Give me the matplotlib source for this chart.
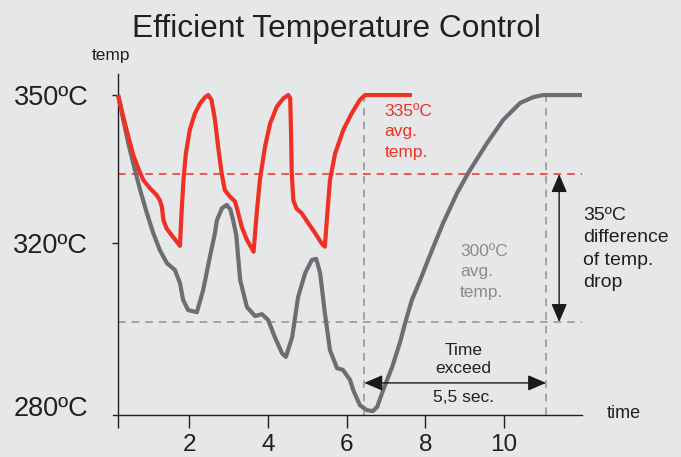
import numpy as np
import matplotlib
matplotlib.use("Agg")
import matplotlib.pyplot as plt

plt.rcParams['font.family'] = ['Liberation Sans', 'DejaVu Sans']
plt.rcParams['lines.scale_dashes'] = False

# temperature curves (time in sec, temp in ºC)
red_t = [0.20, 0.33, 0.46, 0.585, 0.71, 0.84, 1.01, 1.18, 1.26, 1.31, 1.35, 1.43, 1.56, 1.77,
         1.81, 1.86, 1.92, 2.02, 2.15, 2.28, 2.41, 2.49,
         2.57, 2.66, 2.74, 2.83, 2.91, 3.04, 3.17, 3.25, 3.34, 3.47, 3.64,
         3.72, 3.80, 3.93, 4.06, 4.23, 4.40, 4.52,
         4.57, 4.59, 4.61, 4.65, 4.73, 4.86, 5.03, 5.20, 5.37, 5.45,
         5.50, 5.58, 5.71, 5.92, 6.13, 6.34, 6.47, 7.66]
red_temp = [350, 345.9, 342.1, 338.6, 336.1, 333.7, 331.9, 330.4, 329.3, 327.9, 325.0, 323.2, 321.7, 319.3,
            326.5, 333.7, 338.9, 343.4, 346.5, 348.4, 349.6, 350,
            349.1, 345.3, 340.2, 335.1, 331.5, 330.1, 329.0, 326.5, 323.5, 320.7, 317.8,
            326.5, 333.7, 340.2, 344.6, 347.8, 349.4, 350,
            349.4, 343.4, 335.1, 329.3, 327.5, 326.5, 324.3, 322.2, 319.9, 319.1,
            325.0, 333.7, 338.9, 343.4, 346.5, 349.1, 350, 350]

gray_t = [0.20, 0.33, 0.46, 0.585, 0.76, 0.93, 1.09, 1.26, 1.44, 1.64, 1.77, 1.85, 1.98, 2.20,
          2.36, 2.53, 2.66, 2.71, 2.84, 2.96, 3.05, 3.12, 3.20, 3.30, 3.47, 3.68, 3.85, 4.01,
          4.18, 4.36, 4.46, 4.62, 4.77, 4.95, 5.12, 5.23, 5.33, 5.45, 5.58, 5.76, 5.91, 6.09,
          6.17, 6.34, 6.52, 6.67, 6.78, 6.93, 7.16, 7.36, 7.49, 7.66, 7.87, 8.07,
          8.45, 8.81, 9.09, 9.57, 9.98, 10.41, 10.74, 10.99, 11.98]
gray_temp = [350, 345.3, 340.8, 337.0, 331.5, 326.5, 322.2, 318.2, 314.9, 313.2, 309.9, 305.6, 303.0, 302.5,
             308.1, 316.5, 322.2, 325.0, 327.6, 328.3, 327.3, 325.0, 321.7, 310.6, 303.8, 301.5, 302.0, 300.5,
             296.4, 292.6, 291.7, 296.4, 306.3, 312.4, 315.7, 316.0, 312.4, 302.3, 293.3, 289.0, 288.6, 286.2,
             283.8, 280.2, 279.0, 278.8, 279.8, 283.8, 289.3, 295.2, 299.8, 305.6, 310.6, 315.7,
             324.3, 330.9, 335.2, 340.9, 345.3, 348.5, 349.6, 350, 350]

red_avg = 335
gray_avg = 300
red_end = 6.45     # red reaches 350 again
gray_end = 11.07   # gray reaches 350 again
y_ticks = [280, 320, 350]
y_labels = ['280ºC', '320ºC', '350ºC']
x_ticks = [0.2, 2, 4, 6, 8, 10]
x_labels = ['', '2', '4', '6', '8', '10']

RED = '#ee3124'
GRAY = '#6d6e71'
DASH = '#8f9092'
INK = '#231f20'
BG = '#e6e7e8'

# the temperature axis of the original is not linear
T_KNOTS = [270, 280, 300, 320, 335, 350, 365]
P_KNOTS = [-33, 9, 93, 172, 241, 320, 399]


def fwd(t):
    return np.interp(t, T_KNOTS, P_KNOTS)


def inv(p):
    return np.interp(p, P_KNOTS, T_KNOTS)


fig = plt.figure(figsize=(6.81, 4.57), dpi=100, facecolor=BG)
ax = fig.add_axes([113 / 681, 42 / 457, 469 / 681, 341 / 457])
ax.set_facecolor(BG)
ax.set_yscale('function', functions=(fwd, inv))
ax.set_xlim(0.07, 11.98)
ax.set_ylim(277.86, 354.0)

# dashed guide lines
ax.hlines([red_avg], 0.2, 11.99, colors=RED, lw=1.1, linestyles=(0, (5.5, 4.3)), clip_on=False)
ax.hlines([gray_avg], 0.2, 11.99, colors=DASH, lw=1.1, linestyles=(0, (5.5, 4.3)), clip_on=False)
ax.vlines([red_end, gray_end], 277.86, 350, colors=DASH, lw=1.1, linestyles=(0, (5.5, 4.3)))

# curves
ax.plot(gray_t, gray_temp, color=GRAY, lw=3.0, solid_joinstyle='round', solid_capstyle='butt',
        clip_on=False, zorder=3)
ax.plot(red_t, red_temp, color=RED, lw=3.0, solid_joinstyle='round', solid_capstyle='butt',
        clip_on=False, zorder=4)

# arrows
arr = dict(arrowstyle='<|-|>,head_length=0.7,head_width=0.3', color='#1a1a1a', lw=1.0,
           mutation_scale=16, shrinkA=0, shrinkB=0)
ax.annotate('', xy=(red_end, 285.5), xytext=(gray_end, 285.5), arrowprops=arr)
ax.annotate('', xy=(11.40, red_avg), xytext=(11.40, gray_avg), arrowprops=arr,
            annotation_clip=False)

# notes
ax.text(6.96, 348.3, '335ºC\navg.\ntemp.', color=RED, fontsize=12.5, va='top', ha='left',
        linespacing=1.45)
ax.text(8.88, 312.7, '300ºC\navg.\ntemp.', color='#8a8b8d', fontsize=12.5, va='center',
        ha='left', linespacing=1.45)
ax.text(12.0, 318.5, '35ºC\ndifference\nof temp.\ndrop', color=INK, fontsize=14, va='center',
        ha='left', linespacing=1.42, clip_on=False)
ax.text(8.97, 291.0, 'Time\nexceed', color=INK, fontsize=12.5, ha='center', va='center',
        linespacing=1.25)
ax.text(8.97, 282.1, '5,5 sec.', color=INK, fontsize=12.5, ha='center', va='center')

# axes styling
for s in ['top', 'right']:
    ax.spines[s].set_visible(False)
ax.spines['left'].set_position(('data', 0.2))
ax.spines['left'].set_color(INK)
ax.spines['bottom'].set_color(INK)
ax.spines['left'].set_linewidth(1.0)
ax.spines['bottom'].set_linewidth(1.0)

ax.set_xticks(x_ticks)
ax.set_xticklabels(x_labels)
ax.tick_params(axis='x', direction='out', length=9, width=1, color=INK, labelsize=17.5,
               labelcolor=INK, pad=4.5)
ax.set_yticks(y_ticks)
ax.set_yticklabels(y_labels)
ax.yaxis.set_minor_locator(matplotlib.ticker.NullLocator())
ax.tick_params(axis='y', direction='out', length=4.5, width=1, color=INK, labelsize=19.5,
               labelcolor=INK, pad=17)
ax.yaxis.get_major_ticks()[0].tick1line.set_visible(False)

fig.text(336.5 / 681, (457 - 37) / 457, 'Efficient Temperature Control', ha='center',
         va='baseline', fontsize=22.8, color=INK)
fig.text(111 / 681, (457 - 60) / 457, 'temp', ha='center', va='baseline', fontsize=12.5, color=INK)
fig.text(607 / 681, (457 - 413) / 457, 'time', ha='left', va='center', fontsize=13, color=INK)

fig.savefig('out.png', dpi=100, facecolor=BG)
